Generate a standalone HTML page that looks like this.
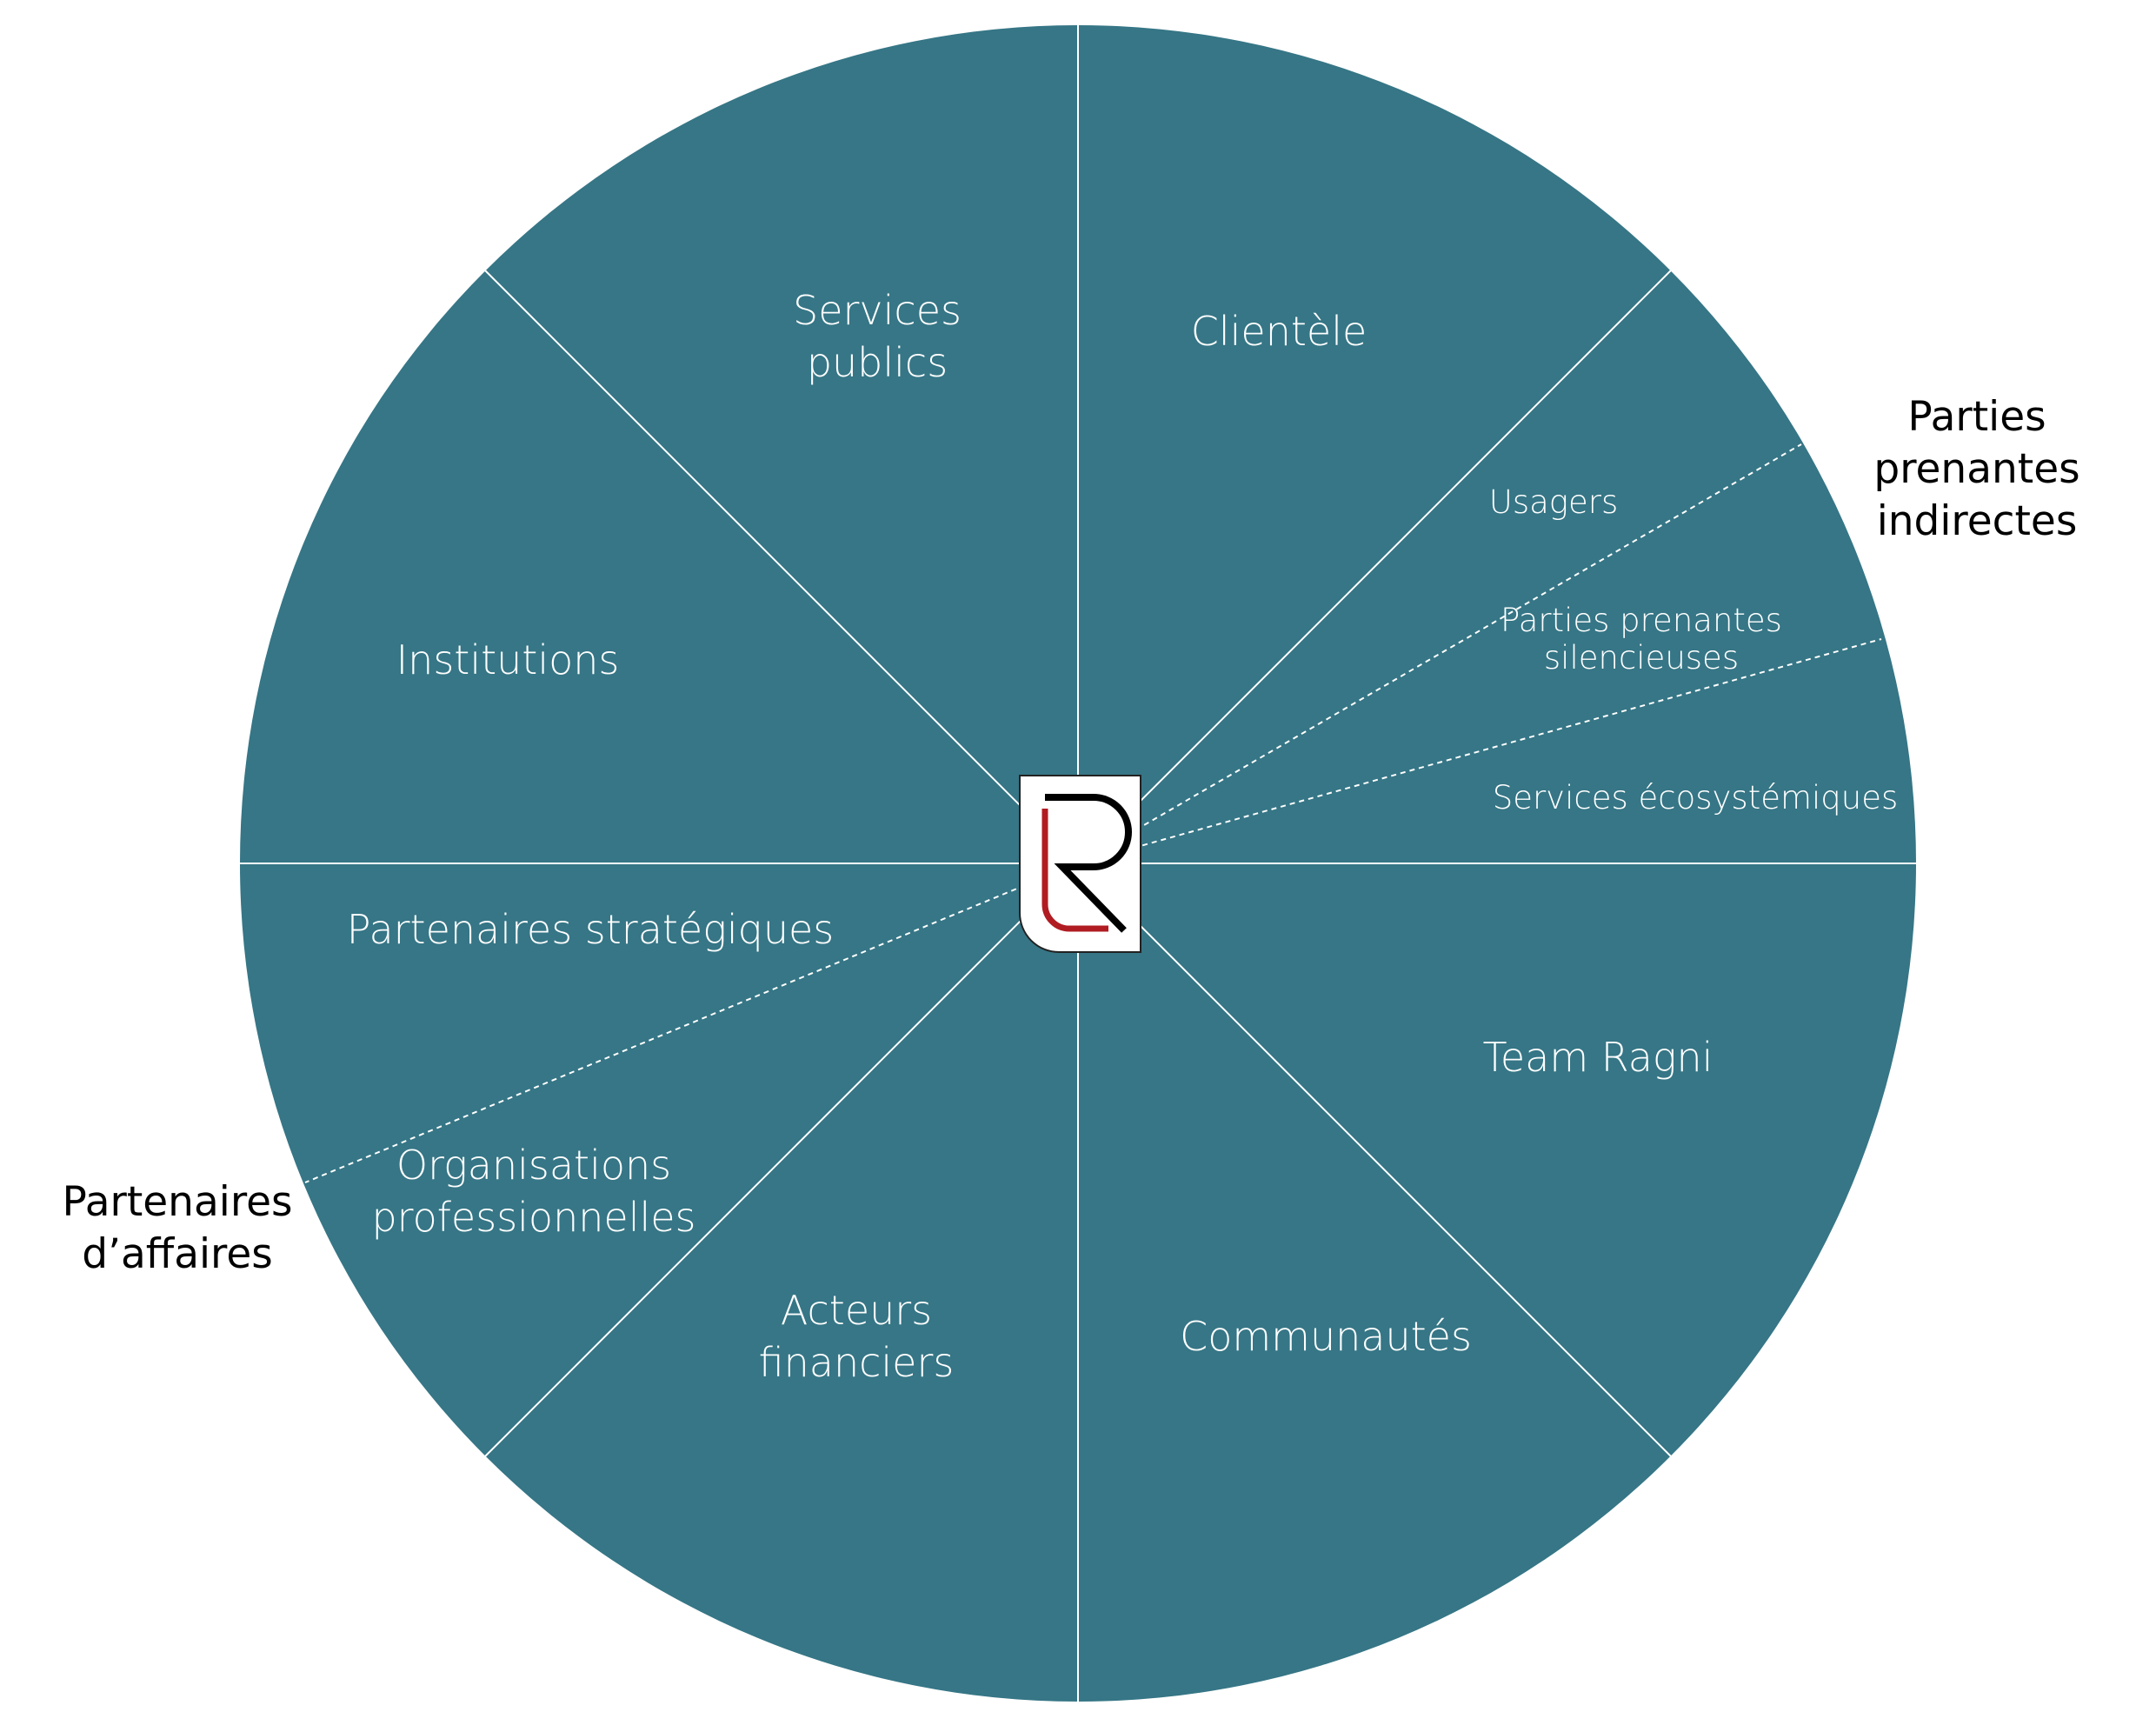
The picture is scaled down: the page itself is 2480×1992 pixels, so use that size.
<!DOCTYPE html>
<html><head><meta charset="utf-8"><style>
html,body{margin:0;padding:0;background:#fff;}
svg{display:block;}
text{font-family:"DejaVu Sans","Liberation Sans",sans-serif;}
.w{fill:#fff;font-size:46px;text-anchor:middle;font-weight:300;}
.s{fill:#fff;font-size:37px;text-anchor:middle;font-weight:300;}
.b{fill:#000;font-size:47px;text-anchor:middle;}
</style></head><body>
<svg width="2480" height="1992" viewBox="0 0 2480 1992" xmlns="http://www.w3.org/2000/svg">
<circle cx="1240" cy="993" r="964" fill="#367686"/>
<g stroke="#fff" stroke-width="2">
<line x1="1240" y1="29" x2="1240" y2="1957"/>
<line x1="276" y1="993" x2="2204" y2="993"/>
<line x1="558" y1="311" x2="1922" y2="1675"/>
<line x1="1922" y1="311" x2="558" y2="1675"/>
</g>
<g stroke="#fff" stroke-width="2" stroke-dasharray="6,5">
<line x1="1240" y1="993" x2="2072" y2="511"/>
<line x1="1240" y1="993" x2="2164" y2="735"/>
<line x1="1240" y1="993" x2="351" y2="1360"/>
</g>
<path d="M1173 892 H1312 V1095 H1218 A45 45 0 0 1 1173 1050 Z" fill="#fff" stroke="#222" stroke-width="2"/>
<path d="M1202 917 H1258 A40 40 0 0 1 1258 997 H1222 L1293 1070" fill="none" stroke="#000" stroke-width="8"/>
<path d="M1202 930 V1040 A28 28 0 0 0 1230 1068 H1275" fill="none" stroke="#b01c22" stroke-width="7"/>
<text class="w" x="1009" y="373">Services</text>
<text class="w" x="1009" y="433">publics</text>
<text class="w" x="1471" y="397">Clientèle</text>
<text class="w" x="584" y="775">Institutions</text>
<text class="s" x="1787" y="590">Usagers</text>
<text class="s" x="1888" y="726">Parties prenantes</text>
<text class="s" x="1888" y="769">silencieuses</text>
<text class="s" x="1950" y="930">Services écosystémiques</text>
<text class="w" x="1838" y="1232">Team Ragni</text>
<text class="w" x="1525" y="1553">Communautés</text>
<text class="w" x="985" y="1523">Acteurs</text>
<text class="w" x="985" y="1583">financiers</text>
<text class="w" x="614" y="1356">Organisations</text>
<text class="w" x="614" y="1416">professionnelles</text>
<text class="w" x="679" y="1085">Partenaires stratégiques</text>
<text class="b" x="2274" y="495">Parties</text>
<text class="b" x="2274" y="555">prenantes</text>
<text class="b" x="2274" y="615">indirectes</text>
<text class="b" x="204" y="1398">Partenaires</text>
<text class="b" x="204" y="1458">d’affaires</text>
</svg>
</body></html>
